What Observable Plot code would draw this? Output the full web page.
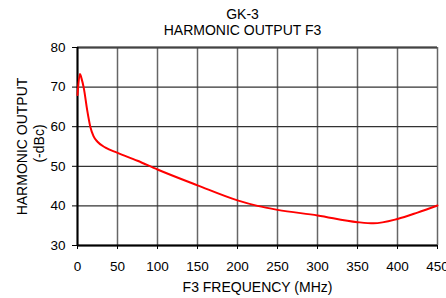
<!DOCTYPE html>
<html>
<head>
<meta charset="utf-8">
<script src="https://cdn.jsdelivr.net/npm/d3@7"></script>
<script src="https://cdn.jsdelivr.net/npm/@observablehq/plot@0.6"></script>
<style>
  html, body { margin: 0; padding: 0; background: #fff; overflow: hidden; }
  #chart svg { overflow: visible; }
</style>
</head>
<body>
<div id="chart"></div>
<script>
const titleLines = ["GK-3", "HARMONIC OUTPUT F3"];
const xLabel = "F3 FREQUENCY (MHz)";
const yLabelLines = ["HARMONIC OUTPUT", "(-dBc)"];
const xTicks = [0, 50, 100, 150, 200, 250, 300, 350, 400, 450];
const yTicks = [30, 40, 50, 60, 70, 80];

const freq   = [0, 3, 5, 8, 12, 16, 20, 25, 35, 50, 75, 100, 150, 200, 225, 250, 300, 350, 370, 400, 425, 450];
const output = [68, 73.3, 72.2, 69.6, 64.3, 60.0, 57.6, 56.2, 54.7, 53.4, 51.4, 49.2, 45.2, 41.4, 40.0, 39.0, 37.6, 35.9, 35.6, 36.7, 38.3, 40.1];

const data = freq.map((f, i) => ({f, v: output[i]}));
const font = "Liberation Sans, Arial, sans-serif";

const chart = Plot.plot({
  width: 446,
  height: 298,
  marginLeft: 77,
  marginRight: 9,
  marginTop: 47,
  marginBottom: 53,
  style: {fontFamily: font, fontSize: "13.5px", color: "#000", background: "#fff"},
  x: {domain: [0, 450]},
  y: {domain: [30, 80]},
  marks: [
    Plot.ruleX(xTicks, {stroke: "#666", strokeWidth: 1.5}),
    Plot.ruleY(yTicks, {stroke: "#333", strokeWidth: 1.3}),
    Plot.ruleY([80], {stroke: "#444", strokeWidth: 2}),
    Plot.ruleX([0], {stroke: "#000", strokeWidth: 2}),
    Plot.ruleY([30], {stroke: "#000", strokeWidth: 2}),
    Plot.axisX({ticks: xTicks, tickSize: 4, tickPadding: 12, label: null, fontSize: 13.5, stroke: "#000"}),
    Plot.axisY({ticks: yTicks, tickSize: 5, tickPadding: 7, label: null, fontSize: 13.5, stroke: "#000"}),
    Plot.line(data, {x: "f", y: "v", stroke: "#ff0000", strokeWidth: 2, curve: "monotone-x"}),
    Plot.text([titleLines[0]], {frameAnchor: "top", dx: -15, dy: -33, lineAnchor: "middle", fontSize: 14, fill: "#000"}),
    Plot.text([titleLines[1]], {frameAnchor: "top", dx: -15, dy: -17, lineAnchor: "middle", fontSize: 14, fill: "#000"}),
    Plot.text([xLabel], {frameAnchor: "bottom", dy: 42, lineAnchor: "middle", fontSize: 14, fill: "#000"}),
    Plot.text([yLabelLines[0]], {frameAnchor: "left", dx: -55, rotate: -90, lineAnchor: "middle", textAnchor: "middle", fontSize: 14, fill: "#000"}),
    Plot.text([yLabelLines[1]], {frameAnchor: "left", dx: -38, dy: -3, rotate: -90, lineAnchor: "middle", textAnchor: "middle", fontSize: 14, fill: "#000"})
  ]
});
document.getElementById("chart").appendChild(chart);
</script>
</body>
</html>
